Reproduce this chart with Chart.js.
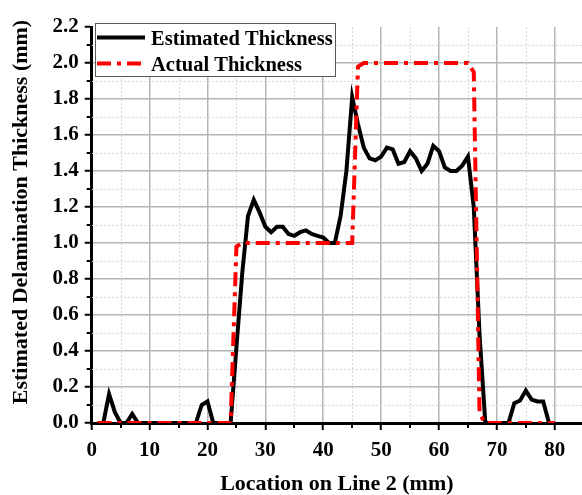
<!DOCTYPE html>
<html>
<head>
<meta charset="utf-8">
<script src="https://cdn.jsdelivr.net/npm/chart.js@4/dist/chart.umd.min.js"></script>
<style>
  html, body { margin: 0; padding: 0; background: #fff; }
  #wrap { width: 582px; height: 495px; }
</style>
</head>
<body>
<div id="wrap"><canvas id="c" width="582" height="495"></canvas></div>
<script>
// Scan positions along line 2 (mm)
const locationMm = [
   1,  2,  3,  4,  5,  6,  7,  8,  9, 10,
  11, 12, 13, 14, 15, 16, 17, 18, 19, 20,
  21, 22, 23, 24, 25, 26, 27, 28, 29, 30,
  31, 32, 33, 34, 35, 36, 37, 38, 39, 40,
  41, 42, 43, 44, 45, 46, 47, 48, 49, 50,
  51, 52, 53, 54, 55, 56, 57, 58, 59, 60,
  61, 62, 63, 64, 65, 66, 67, 68, 69, 70,
  71, 72, 73, 74, 75, 76, 77, 78, 79, 80
];

// Estimated delamination thickness (mm)
const estimatedThickness = [
  0.00, 0.00, 0.16, 0.06, 0.00, 0.00, 0.05, 0.00, 0.00, 0.00,
  0.00, 0.00, 0.00, 0.00, 0.00, 0.00, 0.00, 0.00, 0.10, 0.12,
  0.00, 0.00, 0.00, 0.00, 0.42, 0.83, 1.15, 1.24, 1.17, 1.09,
  1.06, 1.09, 1.09, 1.05, 1.04, 1.06, 1.07, 1.05, 1.04, 1.03,
  1.00, 1.00, 1.15, 1.40, 1.81, 1.66, 1.53, 1.47, 1.46, 1.48,
  1.53, 1.52, 1.44, 1.45, 1.51, 1.47, 1.40, 1.44, 1.54, 1.51,
  1.42, 1.40, 1.40, 1.43, 1.48, 1.20, 0.49, 0.00, 0.00, 0.00,
  0.00, 0.00, 0.11, 0.125, 0.18, 0.13, 0.12, 0.12, 0.00, 0.00
];

// Actual (as-built) delamination thickness (mm)
const actualThickness = [
  0.00, 0.00, 0.00, 0.00, 0.00, 0.00, 0.00, 0.00, 0.00, 0.00,
  0.00, 0.00, 0.00, 0.00, 0.00, 0.00, 0.00, 0.00, 0.00, 0.00,
  0.00, 0.00, 0.00, 0.00, 0.98, 1.00, 1.00, 1.00, 1.00, 1.00,
  1.00, 1.00, 1.00, 1.00, 1.00, 1.00, 1.00, 1.00, 1.00, 1.00,
  1.00, 1.00, 1.00, 1.00, 1.00, 1.98, 2.00, 2.00, 2.00, 2.00,
  2.00, 2.00, 2.00, 2.00, 2.00, 2.00, 2.00, 2.00, 2.00, 2.00,
  2.00, 2.00, 2.00, 2.00, 2.00, 1.95, 0.05, 0.00, 0.00, 0.00,
  0.00, 0.00, 0.00, 0.00, 0.00, 0.00, 0.00, 0.00, 0.00, 0.00
];

// Axis ticks: labelled (major) and unlabelled (minor) positions
const xMajorTicks = [0, 10, 20, 30, 40, 50, 60, 70, 80];
const xMinorTicks = [5, 15, 25, 35, 45, 55, 65, 75];
const yMajorTicks = [0.0, 0.2, 0.4, 0.6, 0.8, 1.0, 1.2, 1.4, 1.6, 1.8, 2.0, 2.2];
const yMinorTicks = [0.1, 0.3, 0.5, 0.7, 0.9, 1.1, 1.3, 1.5, 1.7, 1.9, 2.1];

const yTitle = 'Estimated Delamination Thickness (mm)';
const xTitle = 'Location on Line 2 (mm)';

const SERIF = "'Liberation Serif', 'Times New Roman', serif";
const MAJOR_GRID = '#b4b4b4';
const MINOR_GRID = '#d6d6d6';

const toPoints = (xs, ys) => xs.map((x, i) => ({ x: x, y: ys[i] }));

// Dotted minor grid and short minor tick marks, placed through the chart's scales
const minorGrid = {
  id: 'minorGrid',
  beforeDatasetsDraw(chart) {
    const { ctx, chartArea: a, scales: { x, y } } = chart;
    ctx.save();
    ctx.strokeStyle = MINOR_GRID;
    ctx.lineWidth = 1;
    ctx.setLineDash([2, 2]);
    xMinorTicks.forEach(v => {
      const px = Math.round(x.getPixelForValue(v)) + 0.5;
      if (px > a.right) return;
      ctx.beginPath(); ctx.moveTo(px, a.top); ctx.lineTo(px, a.bottom); ctx.stroke();
    });
    yMinorTicks.forEach(v => {
      const py = Math.round(y.getPixelForValue(v)) + 0.5;
      ctx.beginPath(); ctx.moveTo(a.left, py); ctx.lineTo(a.right, py); ctx.stroke();
    });
    ctx.setLineDash([]);
    ctx.strokeStyle = '#000';
    ctx.lineWidth = 2;
    xMinorTicks.forEach(v => {
      const px = Math.round(x.getPixelForValue(v));
      ctx.beginPath(); ctx.moveTo(px, a.bottom); ctx.lineTo(px, a.bottom + 5); ctx.stroke();
    });
    yMinorTicks.forEach(v => {
      const py = Math.round(y.getPixelForValue(v));
      ctx.beginPath(); ctx.moveTo(a.left, py); ctx.lineTo(a.left - 5, py); ctx.stroke();
    });
    ctx.restore();
  }
};

// Vertical axis title, set slightly above the plot's mid-height
const sideTitle = {
  id: 'sideTitle',
  afterDraw(chart) {
    const { ctx } = chart;
    ctx.save();
    ctx.translate(21, 212);
    ctx.rotate(-Math.PI / 2);
    ctx.fillStyle = '#000';
    ctx.font = 'bold 22px ' + SERIF;
    ctx.textAlign = 'center';
    ctx.textBaseline = 'middle';
    ctx.fillText(yTitle, 0, 0);
    ctx.restore();
  }
};

// Framed legend in the upper-left corner of the plot
const framedLegend = {
  id: 'framedLegend',
  afterDraw(chart) {
    const { ctx } = chart;
    const box = { left: 95, top: 23, right: 336, bottom: 77 };
    ctx.save();
    ctx.fillStyle = '#fff';
    ctx.fillRect(box.left, box.top, box.right - box.left, box.bottom - box.top);
    ctx.strokeStyle = '#5a5a5a';
    ctx.lineWidth = 1;
    ctx.strokeRect(box.left + 0.5, box.top + 0.5, box.right - box.left - 1, box.bottom - box.top - 1);
    const entries = [chart.data.datasets[0], chart.data.datasets[1]];
    const rows = [{ lineY: 37.5, baseY: 44.5 }, { lineY: 63.5, baseY: 70.5 }];
    entries.forEach((ds, i) => {
      ctx.beginPath();
      ctx.strokeStyle = ds.borderColor;
      ctx.lineWidth = ds.borderWidth;
      ctx.setLineDash(ds.borderDash || []);
      ctx.lineCap = 'butt';
      ctx.moveTo(97, rows[i].lineY);
      ctx.lineTo(145, rows[i].lineY);
      ctx.stroke();
      ctx.setLineDash([]);
      ctx.fillStyle = '#000';
      ctx.font = 'bold 20.5px ' + SERIF;
      ctx.textBaseline = 'alphabetic';
      ctx.textAlign = 'left';
      ctx.fillText(ds.label, 151, rows[i].baseY);
    });
    ctx.restore();
  }
};

new Chart(document.getElementById('c'), {
  type: 'line',
  data: {
    datasets: [
      {
        label: 'Estimated Thickness',
        data: toPoints(locationMm, estimatedThickness),
        borderColor: '#000000',
        backgroundColor: '#000000',
        borderWidth: 4,
        pointRadius: 0,
        tension: 0,
        order: 1
      },
      {
        label: 'Actual Thickness',
        data: toPoints(locationMm, actualThickness),
        borderColor: '#ff0000',
        backgroundColor: '#ff0000',
        borderWidth: 4,
        borderDash: [14, 6, 4, 6],
        pointRadius: 0,
        tension: 0,
        order: 0
      }
    ]
  },
  options: {
    responsive: false,
    animation: false,
    devicePixelRatio: 1,
    layout: { padding: { left: 10, top: 27, right: 0, bottom: 0 } },
    plugins: {
      legend: { display: false },
      tooltip: { enabled: false }
    },
    scales: {
      x: {
        type: 'linear',
        min: 0,
        max: 84.7,
        afterBuildTicks(scale) {
          scale.ticks = xMajorTicks.map(v => ({ value: v }));
        },
        afterFit(scale) { scale.height = 72; },
        grid: {
          color: c => (c.tick && c.tick.value !== 0) ? MAJOR_GRID : 'rgba(0,0,0,0)',
          lineWidth: 1.5,
          tickColor: '#000',
          tickWidth: 2,
          tickLength: 7
        },
        border: { color: '#000', width: 3 },
        ticks: {
          autoSkip: false,
          maxRotation: 0,
          padding: 8,
          color: '#000',
          font: { family: SERIF, size: 21, weight: 'bold' },
          callback: v => String(v)
        },
        title: {
          display: true,
          text: xTitle,
          color: '#000',
          padding: 0,
          font: { family: SERIF, size: 22, weight: 'bold', lineHeight: 1 }
        }
      },
      y: {
        type: 'linear',
        min: 0,
        max: 2.2,
        afterBuildTicks(scale) {
          scale.ticks = yMajorTicks.map(v => ({ value: v }));
        },
        afterFit(scale) { scale.width = 81.7; },
        grid: {
          color: c => {
            if (!c.tick) return 'rgba(0,0,0,0)';
            const v = c.tick.value;
            return (v > 0.05 && v < 2.15) ? MAJOR_GRID : 'rgba(0,0,0,0)';
          },
          lineWidth: 1.5,
          tickColor: '#000',
          tickWidth: 2,
          tickLength: 7
        },
        border: { color: '#000', width: 3 },
        ticks: {
          autoSkip: false,
          padding: 6,
          color: '#000',
          font: { family: SERIF, size: 21, weight: 'bold' },
          callback: v => v.toFixed(1)
        },
        title: { display: false }
      }
    }
  },
  plugins: [minorGrid, sideTitle, framedLegend]
});
</script>
</body>
</html>
